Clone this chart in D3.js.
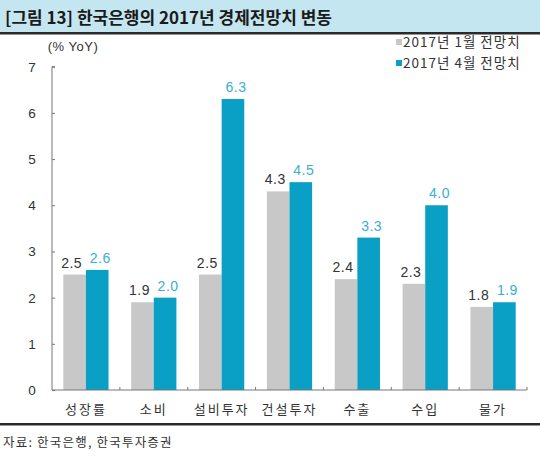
<!DOCTYPE html>
<html>
<head>
<meta charset="utf-8">
<script src="https://cdn.jsdelivr.net/npm/d3@7"></script>
<style>
  body { margin: 0; background: #fff; }
  text { font-family: "Noto Sans CJK KR", "Noto Sans", sans-serif; }
  .num { font-family: "Liberation Sans", Arial, sans-serif; }
</style>
</head>
<body>
<div id="chart"></div>
<script>
var categories = ["성장률", "소비", "설비투자", "건설투자", "수출", "수입", "물가"]
var jan = [2.5, 1.9, 2.5, 4.3, 2.4, 2.3, 1.8]
var apr = [2.6, 2.0, 6.3, 4.5, 3.3, 4.0, 1.9]
var series = ["2017년 1월 전망치", "2017년 4월 전망치"]
var yTicks = [0, 1, 2, 3, 4, 5, 6, 7]

var w = 540, h = 459
var colors = ["#c8c8c8", "#0a9fc5"]
var labelColors = ["#333333", "#3aaed3"]

var svg = d3.select("#chart")
  .append("svg")
  .attr("width", w)
  .attr("height", h)

// title bar
svg.append("rect").attr("x", 0).attr("y", 0).attr("width", w).attr("height", 33)
  .attr("fill", "#c4e6f0")
svg.append("rect").attr("x", 0).attr("y", 32).attr("width", w).attr("height", 2.5)
  .attr("fill", "#2a2a2a")
svg.append("text").attr("x", 5).attr("y", 24)
  .attr("font-size", 17).attr("font-weight", "bold").attr("fill", "#1a1a1a")
  .text("[그림 13] 한국은행의 2017년 경제전망치 변동")

var x = d3.scaleBand().domain(categories).range([52, 527])
var xs = d3.scaleBand().domain([0, 1]).range([0, x.bandwidth()]).paddingInner(0).paddingOuter(0.5)
var y = d3.scaleLinear().domain([0, 7]).range([390, 66.7])

// y axis
var yAxis = svg.append("g").attr("transform", "translate(52,0)")
  .call(d3.axisRight(y).tickValues(yTicks).tickSize(3).tickFormat(""))
yAxis.select(".domain").attr("stroke", "#777").attr("d", "M3,66.7H0V390")
yAxis.selectAll(".tick line").attr("stroke", "#777")
svg.selectAll(".ylab").data(yTicks).enter().append("text")
  .attr("class", "num")
  .attr("x", 32).attr("y", function (d) { return y(d) + 5 })
  .attr("text-anchor", "middle").attr("font-size", 13.5).attr("fill", "#333")
  .text(function (d) { return d })

svg.append("text").attr("class", "num").attr("x", 73).attr("y", 51).attr("text-anchor", "middle")
  .attr("font-size", 13).attr("fill", "#333").attr("letter-spacing", 0.5).text("(% YoY)")

// bars
var data = [jan, apr]
data.forEach(function (vals, si) {
  svg.selectAll(".bar" + si).data(vals).enter().append("rect")
    .attr("x", function (d, i) { return x(categories[i]) + xs(si) })
    .attr("width", xs.bandwidth())
    .attr("y", function (d) { return y(d) })
    .attr("height", function (d) { return y(0) - y(d) })
    .attr("fill", colors[si])
  svg.selectAll(".lab" + si).data(vals).enter().append("text")
    .attr("class", "num")
    .attr("x", function (d, i) { return x(categories[i]) + xs(si) + xs.bandwidth() / 2 + (si === 0 ? -3 : 3) })
    .attr("y", function (d) { return y(d) - 7 })
    .attr("text-anchor", "middle").attr("font-size", 14).attr("letter-spacing", 0.5)
    .attr("fill", labelColors[si])
    .text(function (d) { return d.toFixed(1) })
})

// x axis
var xAxis = svg.append("g").attr("transform", "translate(0,390)")
  .call(d3.axisBottom(x).tickSize(0).tickFormat(""))
xAxis.select(".domain").attr("stroke", "#777").attr("d", "M52,0H527V-3")
svg.selectAll(".xtick").data(categories.slice(1)).enter().append("line")
  .attr("x1", function (d) { return x(d) }).attr("x2", function (d) { return x(d) })
  .attr("y1", 390).attr("y2", 387).attr("stroke", "#777")
svg.selectAll(".xlab").data(categories).enter().append("text")
  .attr("x", function (d) { return x(d) + x.bandwidth() / 2 })
  .attr("y", 414).attr("text-anchor", "middle").attr("font-size", 13).attr("fill", "#333")
  .attr("letter-spacing", 2)
  .text(function (d) { return d })

// legend
series.forEach(function (s, i) {
  var ly = 47 + i * 21
  svg.append("rect").attr("x", 396).attr("y", ly - 8).attr("width", 6).attr("height", 6)
    .attr("fill", colors[i])
  svg.append("text").attr("x", 403).attr("y", ly).attr("font-size", 13.5).attr("fill", "#333")
    .attr("letter-spacing", 1)
    .text(s)
})

// bottom line and source
svg.append("rect").attr("x", 0).attr("y", 423).attr("width", w).attr("height", 2.5)
  .attr("fill", "#2a2a2a")
svg.append("text").attr("x", 3).attr("y", 447).attr("font-size", 12.5).attr("fill", "#333")
  .attr("letter-spacing", 1.2)
  .text("자료: 한국은행, 한국투자증권")
</script>
</body>
</html>
